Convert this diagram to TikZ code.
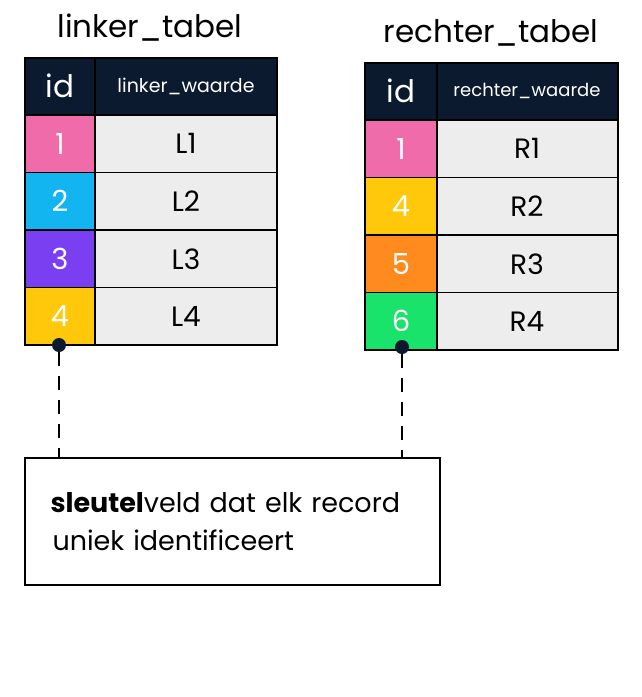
\documentclass[tikz,border=0pt]{standalone}
\usepackage{fontspec}
\setmainfont{Poppins}
\begin{document}
\begin{tikzpicture}[x=1pt,y=-1pt,
  hdr/.style={fill=hd,draw=black,line width=1.5pt},
  cell/.style={fill=cl,draw=black,line width=1.5pt},
  num/.style={text=white,font=\fontsize{29}{34}\selectfont},
  val/.style={font=\fontsize{28}{34}\selectfont},
  dot/.style={circle,fill=hd,inner sep=0pt,minimum size=14pt}]
\definecolor{hd}{HTML}{0B1A2E}\definecolor{cl}{HTML}{EDEDED}
\definecolor{c1}{HTML}{F06BAA}\definecolor{c2}{HTML}{12B5F0}\definecolor{c3}{HTML}{7B3FF2}
\definecolor{c4}{HTML}{FFC80A}\definecolor{c5}{HTML}{FF8A1E}\definecolor{c6}{HTML}{19E36A}
\useasboundingbox[fill=white] (0,0) rectangle (642,697);
% left
\node[font=\fontsize{31}{36}\selectfont] (lt) at (150,28) {linker\_tabel};
\draw[hdr] (25,58) rectangle (95,115); \draw[hdr] (95,58) rectangle (277,115);
\node[text=white,font=\fontsize{31}{36}\selectfont] (lh1) at (60,86) {id};
\node[text=white,font=\fontsize{19}{22}\selectfont] (lh2) at (186,86) {linker\_waarde};
\foreach \i/\c/\n/\v [count=\k from 0] in {1/c1/1/L1,2/c2/2/L2,3/c3/3/L3,4/c4/4/L4}{
  \pgfmathsetmacro\ya{115+57.5*\k}\pgfmathsetmacro\yb{\ya+57.5}
  \draw[fill=\c,draw=black,line width=1.5pt] (25,\ya) rectangle (95,\yb);
  \draw[cell] (95,\ya) rectangle (277,\yb);
  \node[num] (ln\i) at (60,{(\ya+\yb)/2}) {\n};
  \node[val] (lv\i) at (186,{(\ya+\yb)/2}) {\v};
}
% right
\node[font=\fontsize{31}{36}\selectfont] (rt) at (491,33) {rechter\_tabel};
\draw[hdr] (365,63) rectangle (437,120); \draw[hdr] (437,63) rectangle (618,120);
\node[text=white,font=\fontsize{31}{36}\selectfont] (rh1) at (401,91) {id};
\node[text=white,font=\fontsize{18}{22}\selectfont] (rh2) at (527,91) {rechter\_waarde};
\foreach \i/\c/\n/\v [count=\k from 0] in {1/c1/1/R1,2/c4/4/R2,3/c5/5/R3,4/c6/6/R4}{
  \pgfmathsetmacro\ya{120+57.5*\k}\pgfmathsetmacro\yb{\ya+57.5}
  \draw[fill=\c,draw=black,line width=1.5pt] (365,\ya) rectangle (437,\yb);
  \draw[cell] (437,\ya) rectangle (618,\yb);
  \node[num] (rn\i) at (401,{(\ya+\yb)/2}) {\n};
  \node[val] (rv\i) at (527,{(\ya+\yb)/2}) {\v};
}
% box
\node[draw=black,line width=1.5pt,minimum width=415pt,minimum height=127pt,inner sep=0pt,
  text width=360pt,align=left,font=\fontsize{27}{38}\selectfont] (box) at (232.5,521.5)
  {\hspace*{-2pt}\textbf{sleutel}veld dat elk record\\uniek identificeert};
\node[dot] (ld) at (59,345) {};
\node[dot] (rd) at (402,347) {};
\coordinate (lb) at (59,458); \coordinate (rb) at (402,458);
\draw[line width=2pt,dash pattern=on 14pt off 10pt] (ld) -- (lb);
\draw[line width=2pt,dash pattern=on 14pt off 10pt] (rd) -- (rb);
\end{tikzpicture}
\end{document}
